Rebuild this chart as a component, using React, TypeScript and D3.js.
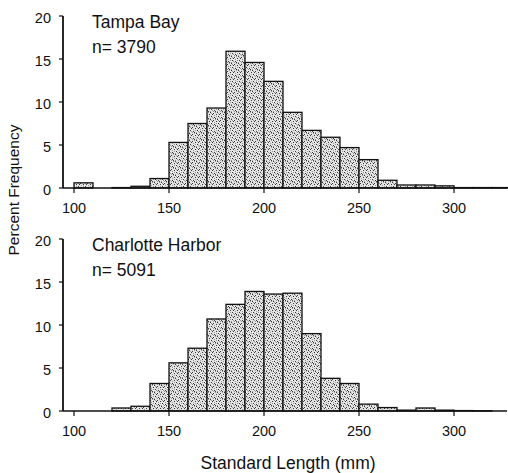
import React, { useEffect, useRef } from 'react';
import * as d3 from 'd3';

// bin starts (mm), each bin is 10 mm wide
const binStarts = [100, 110, 120, 130, 140, 150, 160, 170, 180, 190, 200, 210, 220, 230, 240, 250, 260, 270, 280, 290, 300, 310, 320];
const tampaValues = [0.6, 0, 0.05, 0.2, 1.1, 5.3, 7.5, 9.3, 15.9, 14.6, 12.4, 8.8, 6.7, 5.9, 4.7, 3.3, 0.9, 0.35, 0.35, 0.25, 0.05, 0.05, 0.05];
const charlotteValues = [0, 0, 0.35, 0.55, 3.2, 5.6, 7.3, 10.7, 12.4, 13.9, 13.6, 13.7, 9.0, 3.8, 3.2, 0.8, 0.4, 0.1, 0.35, 0.1, 0.05, 0.03, 0];
const yTicks = [0, 5, 10, 15, 20];
const xTicks = [100, 150, 200, 250, 300];

const panels = [
  { title: 'Tampa Bay', n: 'n= 3790', values: tampaValues, top: 16 },
  { title: 'Charlotte Harbor', n: 'n= 5091', values: charlotteValues, top: 239 },
];

const font = '"Liberation Sans", Arial, sans-serif';

// scattered dots for the stipple fill (7x7 tile)
const darkDots = [[0, 0], [3, 1], [6, 2], [1, 4], [4, 5], [2, 2], [5, 6]];
const midDots = [[5, 0], [1, 1], [4, 3], [0, 6], [6, 4], [2, 5], [3, 6]];

export default function App() {
  const ref = useRef<SVGSVGElement>(null);

  useEffect(() => {
    const svg = d3.select(ref.current);
    svg.selectAll('*').remove();

    const defs = svg.append('defs');
    const pat = defs.append('pattern')
      .attr('id', 'stipple')
      .attr('patternUnits', 'userSpaceOnUse')
      .attr('width', 7)
      .attr('height', 7);
    pat.append('rect').attr('width', 7).attr('height', 7).attr('fill', '#e4e4e4');
    pat.selectAll('rect.d').data(darkDots).enter().append('rect')
      .attr('x', d => d[0]).attr('y', d => d[1]).attr('width', 1).attr('height', 1).attr('fill', '#3a3a3a');
    pat.selectAll('rect.m').data(midDots).enter().append('rect')
      .attr('x', d => d[0]).attr('y', d => d[1]).attr('width', 1).attr('height', 1).attr('fill', '#9a9a9a');

    const x = d3.scaleLinear().domain([100, 300]).range([74, 454]);
    const axisLeft = 63;
    const axisRight = 507;
    const plotH = 172;

    panels.forEach(p => {
      const y = d3.scaleLinear().domain([0, 20]).range([p.top + plotH, p.top]);
      const g = svg.append('g');

      g.selectAll('rect.bar')
        .data(binStarts.map((b, i) => ({ b, v: p.values[i] })).filter(d => d.v > 0))
        .enter()
        .append('rect')
        .attr('class', 'bar')
        .attr('x', d => x(d.b))
        .attr('width', d => x(d.b + 10) - x(d.b))
        .attr('y', d => y(d.v))
        .attr('height', d => y(0) - y(d.v))
        .attr('fill', 'url(#stipple)')
        .attr('stroke', '#111')
        .attr('stroke-width', 1.3);

      // axes
      g.append('line')
        .attr('x1', axisLeft).attr('x2', axisLeft)
        .attr('y1', y(20)).attr('y2', y(0))
        .attr('stroke', '#111').attr('stroke-width', 1.8);
      g.append('line')
        .attr('x1', axisLeft).attr('x2', axisRight)
        .attr('y1', y(0)).attr('y2', y(0))
        .attr('stroke', '#111').attr('stroke-width', 1.5);

      g.selectAll('line.yt')
        .data(yTicks)
        .enter()
        .append('line')
        .attr('x1', axisLeft - 4).attr('x2', axisLeft)
        .attr('y1', d => y(d)).attr('y2', d => y(d))
        .attr('stroke', '#111').attr('stroke-width', 1.2);
      g.selectAll('text.yl')
        .data(yTicks)
        .enter()
        .append('text')
        .attr('x', 51)
        .attr('y', d => y(d) + 7)
        .attr('text-anchor', 'end')
        .attr('font-family', font)
        .attr('font-size', 14.5)
        .attr('fill', '#111')
        .text(d => d);

      g.selectAll('line.xt')
        .data(xTicks)
        .enter()
        .append('line')
        .attr('x1', d => x(d)).attr('x2', d => x(d))
        .attr('y1', y(0)).attr('y2', y(0) + 5)
        .attr('stroke', '#111').attr('stroke-width', 1.2);
      g.selectAll('text.xl')
        .data(xTicks)
        .enter()
        .append('text')
        .attr('x', d => x(d))
        .attr('y', y(0) + 25)
        .attr('text-anchor', 'middle')
        .attr('font-family', font)
        .attr('font-size', 14.5)
        .attr('fill', '#111')
        .text(d => d);

      g.append('text')
        .attr('x', 92).attr('y', p.top + 11.5)
        .attr('font-family', font).attr('font-size', 17.5).attr('fill', '#111')
        .text(p.title);
      g.append('text')
        .attr('x', 92).attr('y', p.top + 37)
        .attr('font-family', font).attr('font-size', 17.5).attr('fill', '#111')
        .text(p.n);
    });

    svg.append('text')
      .attr('transform', 'translate(19 190) rotate(-90)')
      .attr('text-anchor', 'middle')
      .attr('font-family', font).attr('font-size', 15.5).attr('fill', '#111')
      .text('Percent Frequency');

    svg.append('text')
      .attr('x', 288).attr('y', 469)
      .attr('text-anchor', 'middle')
      .attr('font-family', font).attr('font-size', 17.5).attr('fill', '#111')
      .text('Standard Length (mm)');
  }, []);

  return (
    <div style={{ position: 'absolute', left: 0, top: 0 }}>
      <svg ref={ref} width={508} height={473} style={{ display: 'block', background: '#fff' }} />
    </div>
  );
}
